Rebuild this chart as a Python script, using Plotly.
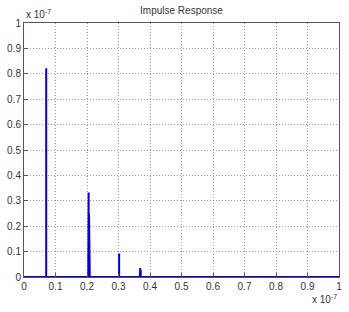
import plotly.graph_objects as go

# Impulse response samples (time in units of 1e-7 s, amplitude in units of 1e-7)
spike_times = [0.0705, 0.2040, 0.2052, 0.2064, 0.2076, 0.2088, 0.3020, 0.3675, 0.3690, 0.3705]
spike_amps = [0.822, 0.14, 0.333, 0.25, 0.17, 0.08, 0.093, 0.02, 0.035, 0.028]
x_ticks = [0, 0.1, 0.2, 0.3, 0.4, 0.5, 0.6, 0.7, 0.8, 0.9, 1]
x_tick_labels = ["0", "0.1", "0.2", "0.3", "0.4", "0.5", "0.6", "0.7", "0.8", "0.9", "1"]
y_ticks = [0, 0.1, 0.2, 0.3, 0.4, 0.5, 0.6, 0.7, 0.8, 0.9, 1]
y_tick_labels = ["0", "0.1", "0.2", "0.3", "0.4", "0.5", "0.6", "0.7", "0.8", "0.9", "1"]

xs, ys = [0.0], [0.0]
for t, a in zip(spike_times, spike_amps):
    xs += [t, t, t]
    ys += [0.0, a, 0.0]
xs.append(1.0)
ys.append(0.0)

fig = go.Figure()
fig.add_trace(go.Scatter(x=xs, y=ys, mode="lines",
                         line=dict(color="#0000ee", width=2), hoverinfo="skip"))

font = dict(family="Liberation Sans, Arial, sans-serif", size=10, color="#333")
axis_common = dict(showgrid=True, gridcolor="#9a9a9a", griddash="1px,2px", gridwidth=1,
                   showline=True, linecolor="#555", linewidth=1, mirror=True,
                   ticks="inside", ticklen=4, tickcolor="#555", zeroline=False,
                   tickfont=font)
fig.update_xaxes(range=[0, 1], tickvals=x_ticks, ticktext=x_tick_labels, **axis_common)
fig.update_yaxes(range=[0, 1], tickvals=y_ticks, ticktext=y_tick_labels, **axis_common)

fig.update_layout(
    width=349, height=312,
    margin=dict(l=20, r=7, t=23, b=35),
    plot_bgcolor="white", paper_bgcolor="white",
    showlegend=False,
    title=dict(text="Impulse Response", x=0.52, xanchor="center", y=0.965, yanchor="middle",
               font=dict(family="Liberation Sans, Arial, sans-serif", size=10, color="#333")),
    annotations=[
        dict(text="x 10<sup>-7</sup>", xref="paper", yref="paper", x=0.0, y=1.0,
             xanchor="left", yanchor="bottom", showarrow=False, yshift=1,
             font=dict(family="Liberation Sans, Arial, sans-serif", size=10, color="#333")),
        dict(text="x 10<sup>-7</sup>", xref="paper", yref="paper", x=1.0, y=0.0,
             xanchor="right", yanchor="top", showarrow=False, yshift=-14,
             font=dict(family="Liberation Sans, Arial, sans-serif", size=10, color="#333")),
    ],
)

fig.write_html("out.html")
